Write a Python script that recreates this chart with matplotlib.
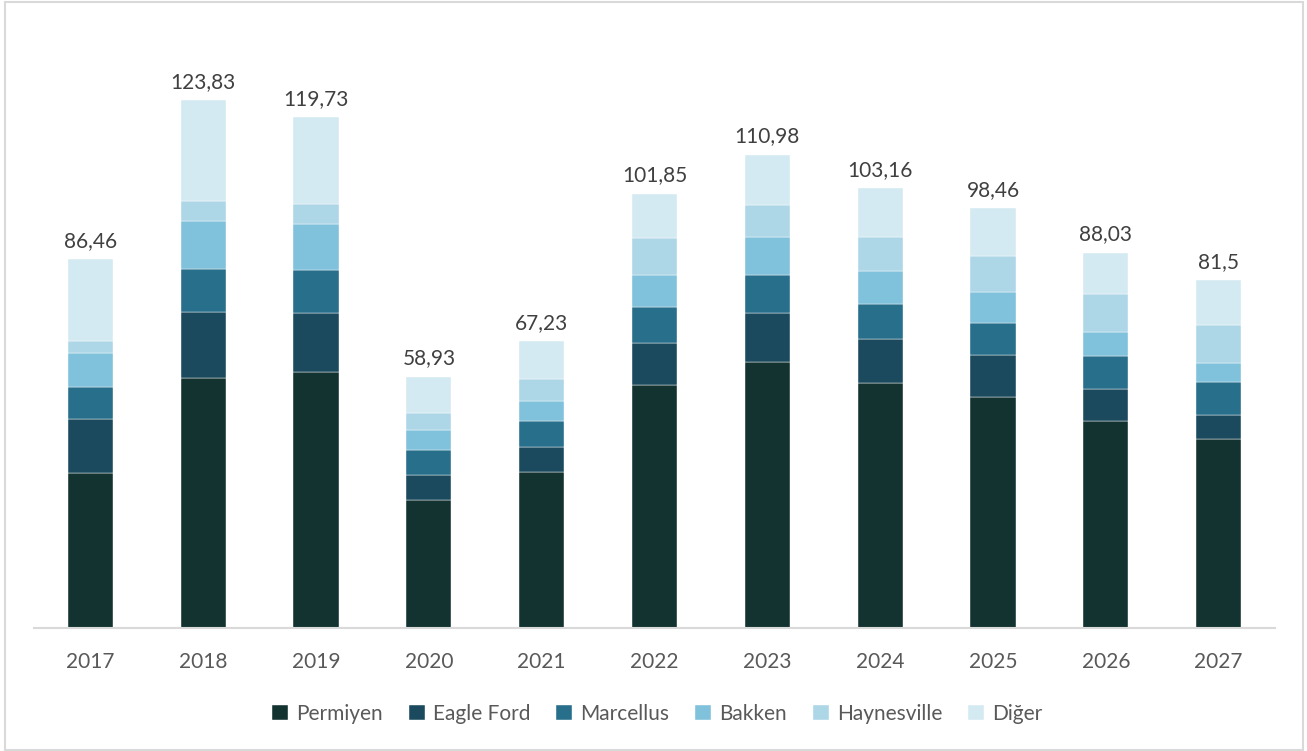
import numpy as np
import matplotlib
matplotlib.use('Agg')
import matplotlib.pyplot as plt
from matplotlib.patches import Rectangle

plt.rcParams['font.family'] = ['Lato', 'DejaVu Sans']

years = ['2017', '2018', '2019', '2020', '2021', '2022', '2023', '2024', '2025', '2026', '2027']

# production by basin, stacked bottom to top
permiyen = [36.44, 58.72, 60.04, 30.02, 36.51, 56.99, 62.48, 57.39, 54.27, 48.55, 44.25]
eagle_ford = [12.57, 15.38, 13.93, 5.96, 5.86, 9.85, 11.40, 10.39, 9.85, 7.60, 5.79]
marcellus = [7.43, 10.01, 9.99, 5.77, 6.10, 8.44, 8.91, 8.14, 7.34, 7.58, 7.65]
bakken = [7.97, 11.26, 10.72, 4.62, 4.69, 7.50, 8.84, 7.74, 7.27, 5.79, 4.46]
haynesville = [2.88, 4.69, 4.69, 3.99, 5.16, 8.68, 7.50, 7.97, 8.44, 8.82, 8.84]
diger = [19.17, 23.77, 20.36, 8.57, 8.91, 10.39, 11.85, 11.53, 11.29, 9.69, 10.51]

series = [
    ('Permiyen', permiyen, '#133331'),
    ('Eagle Ford', eagle_ford, '#1b4a5e'),
    ('Marcellus', marcellus, '#276f8a'),
    ('Bakken', bakken, '#80c1db'),
    ('Haynesville', haynesville, '#add6e7'),
    ('Diğer', diger, '#d4eaf2'),
]

fig = plt.figure(figsize=(13.07, 7.51), dpi=100)
ax = fig.add_axes([34 / 1307, 123 / 751, 1241 / 1307, 597 / 751])

x = np.arange(len(years))
bottom = np.zeros(len(years))
for name, vals, color in series:
    ax.bar(x, vals, width=0.4, bottom=bottom, color=color, label=name,
           edgecolor='white', linewidth=0.3)
    bottom += np.array(vals)

# totals above each stack
for xi, total in zip(x, bottom):
    txt = f'{round(total, 2):g}'.replace('.', ',')
    ax.annotate(txt, (xi, total), xytext=(0, 6), textcoords='offset points',
                ha='center', va='bottom', fontsize=15, color='#404040')

ax.set_xlim(-0.5, len(years) - 0.5)
ax.set_ylim(0, 140)
ax.set_xticks(x)
ax.set_xticklabels(years, fontsize=15, color='#595959')
ax.tick_params(axis='x', length=0, pad=17)
ax.set_yticks([])
for side in ['top', 'right', 'left']:
    ax.spines[side].set_visible(False)
ax.spines['bottom'].set_color('#d9d9d9')
ax.spines['bottom'].set_linewidth(1.5)

leg = fig.legend(loc='center', bbox_to_anchor=(0.503, 1 - 714 / 751), ncol=6,
                 frameon=False, fontsize=15, handlelength=0.75, handleheight=0.75,
                 handletextpad=0.4, columnspacing=1.25)
for t in leg.get_texts():
    t.set_color('#595959')

# light frame round the chart area
fig.patches.append(Rectangle((5 / 1307, 1 / 751), 1298 / 1307, 748 / 751,
                             transform=fig.transFigure, fill=False,
                             edgecolor='#d9d9d9', linewidth=1.5))

fig.savefig('out.png', dpi=100)
